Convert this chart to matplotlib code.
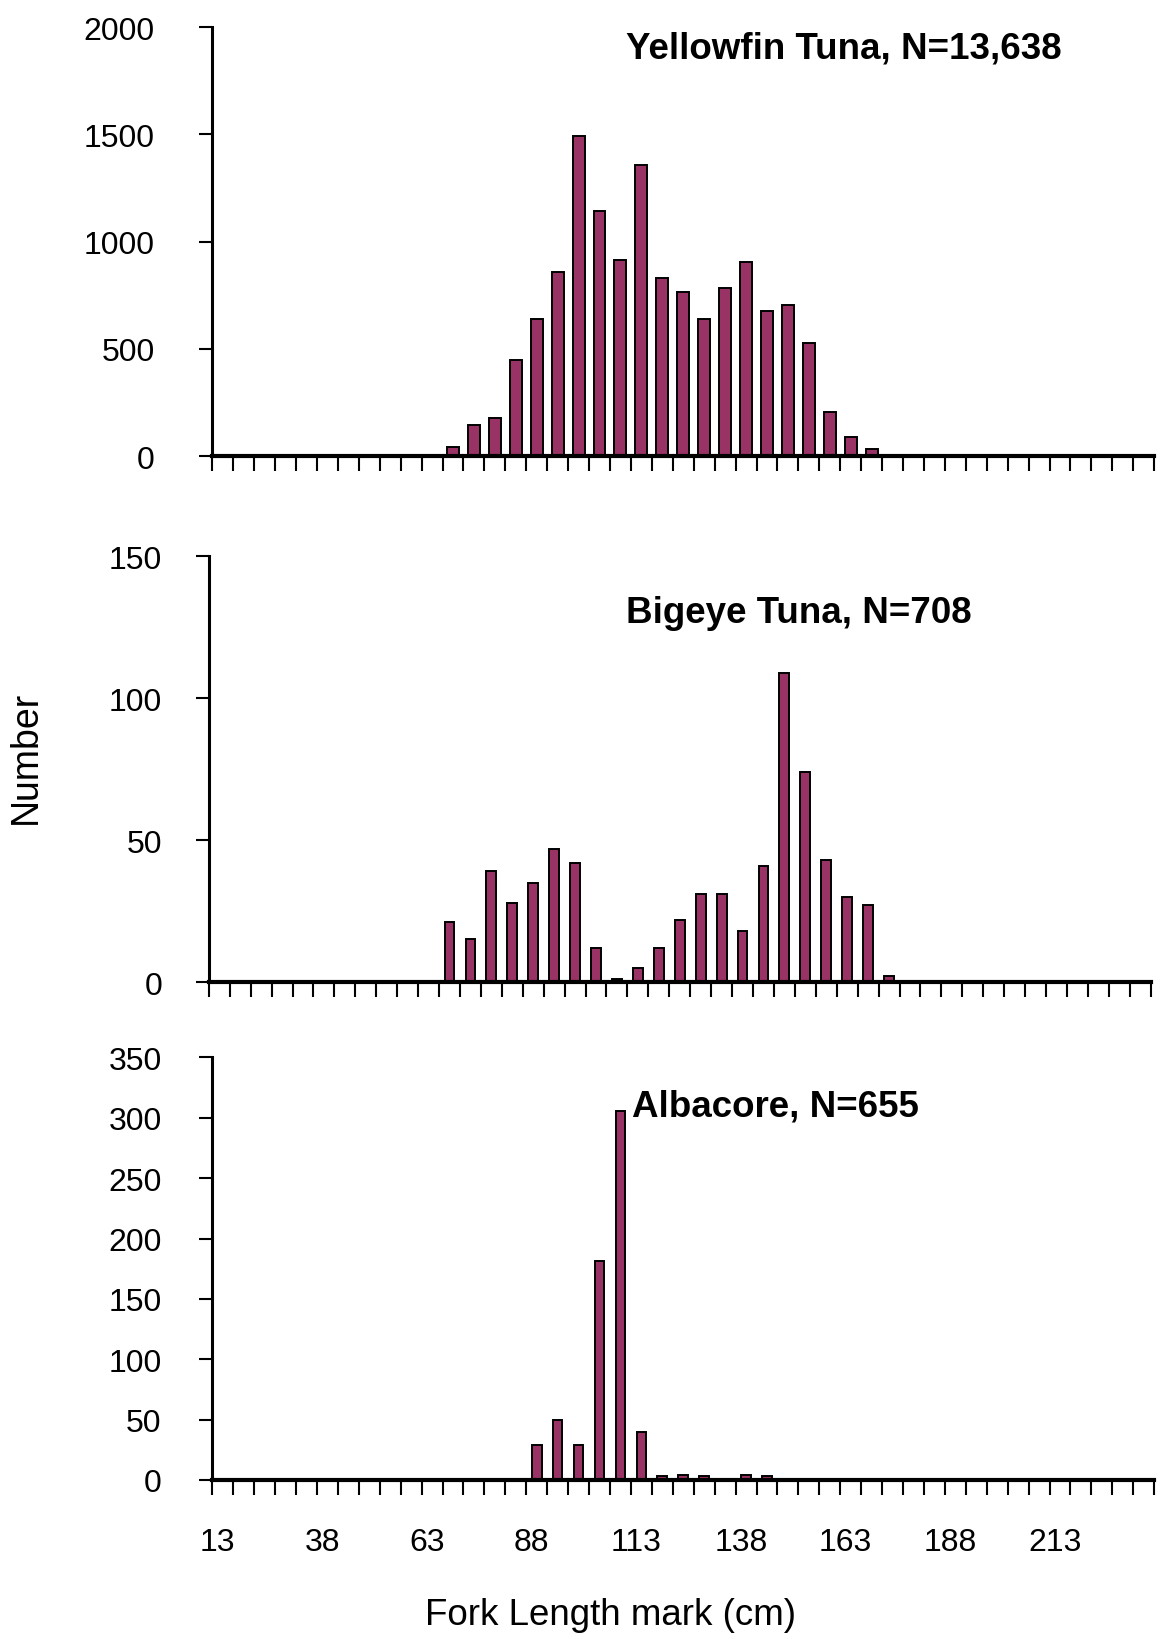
import numpy as np
import matplotlib
matplotlib.use("Agg")
import matplotlib.pyplot as plt

plt.rcParams['font.family'] = ['Liberation Sans', 'DejaVu Sans']

# Classes de comprimento (cm), de 5 em 5
lengths = list(range(13, 234, 5))

yellowfin = [0, 0, 0, 0, 0, 0, 0, 0, 0, 0, 0,
             40, 143, 179, 446, 639, 858, 1493, 1144, 914, 1355, 830,
             766, 639, 785, 904, 676, 702, 527, 207, 87, 33,
             0, 0, 0, 0, 0, 0, 0, 0, 0, 0, 0, 0, 0]
bigeye = [0, 0, 0, 0, 0, 0, 0, 0, 0, 0, 0,
          21, 15, 39, 28, 35, 47, 42, 12, 1, 5, 12,
          22, 31, 31, 18, 41, 109, 74, 43, 30, 27, 2,
          0, 0, 0, 0, 0, 0, 0, 0, 0, 0, 0, 0]
albacore = [0, 0, 0, 0, 0, 0, 0, 0, 0, 0, 0, 0, 0, 0, 0,
            29, 50, 29, 181, 306, 40, 3, 4, 3, 0, 4, 3,
            0, 0, 0, 0, 0, 0, 0, 0, 0, 0, 0, 0, 0, 0, 0, 0, 0, 0]

titles = ["Yellowfin Tuna, N=13,638", "Bigeye Tuna, N=708", "Albacore, N=655"]
ymaxes = [2000, 150, 350]
ysteps = [500, 50, 50]

cor = '#993366'
fs = 23
fs_title = 26.5

fig = plt.figure(figsize=(11.6, 16.4), dpi=100)

# posicoes dos paineis (fração da figura)
boxes = [[0.183, 0.7213, 0.812, 0.2616],
         [0.180, 0.4006, 0.812, 0.2595],
         [0.183, 0.0970, 0.812, 0.2576]]
widths = [0.57, 0.47, 0.46]
ypads = [32, 24, 27]
title_pos = [(0.540, 0.970), (0.540, 0.626), (0.545, 0.325)]

x = np.arange(len(lengths))

for k, vals in enumerate([yellowfin, bigeye, albacore]):
    ax = fig.add_axes(boxes[k])
    ax.bar(x, vals, width=widths[k], color=cor, edgecolor='black', linewidth=1.4, zorder=2)
    ax.set_xlim(-0.5, len(lengths) - 0.5)
    ax.set_ylim(0, ymaxes[k])
    ax.spines['top'].set_visible(False)
    ax.spines['right'].set_visible(False)
    ax.spines['left'].set_linewidth(2.2)
    ax.spines['bottom'].set_linewidth(3)
    ax.spines['bottom'].set_zorder(3)

    ax.set_xticks(np.arange(-0.5, len(lengths), 1))
    ax.set_xticklabels([])
    ax.tick_params(axis='x', which='major', direction='out', length=11, width=1.5)
    ax.set_yticks(range(0, ymaxes[k] + 1, ysteps[k]))
    ax.tick_params(axis='y', direction='out', length=9.5, width=1.5,
                   labelsize=fs, pad=ypads[k])

    if k == 2:
        lab_idx = x[::5][:9]
        ax.set_xticks(lab_idx - 0.25, [str(lengths[i]) for i in lab_idx], minor=True)
        ax.tick_params(axis='x', which='minor', length=0, labelsize=fs, pad=34)

    fig.text(title_pos[k][0], title_pos[k][1], titles[k], fontsize=fs_title,
             fontweight='bold', ha='left', va='center')

fig.text(0.022, 0.538, 'Number', fontsize=27, rotation=90, ha='center', va='center')
fig.text(0.526, 0.015, 'Fork Length mark (cm)', fontsize=fs_title, ha='center', va='center')

fig.savefig('out.png', dpi=100)
